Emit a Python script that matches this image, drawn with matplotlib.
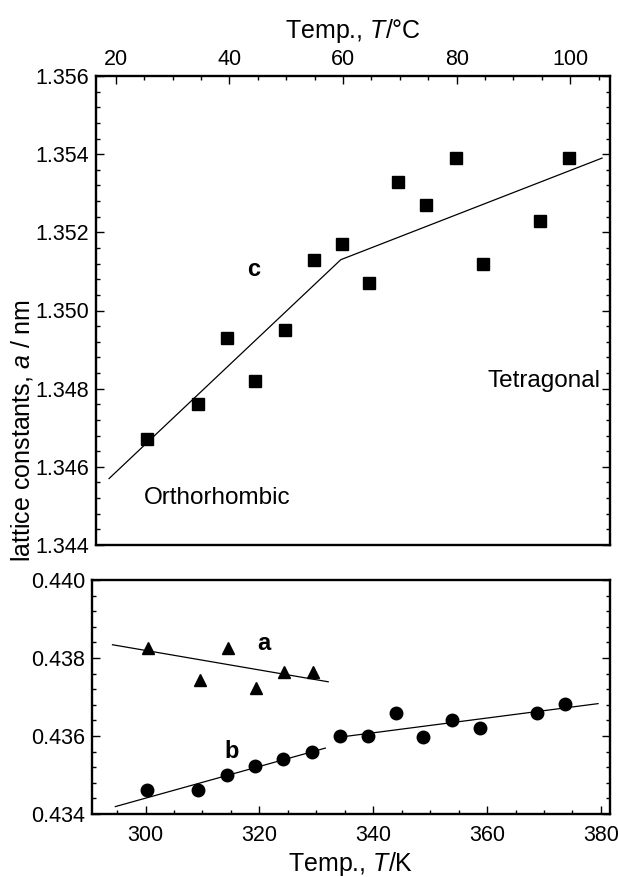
import matplotlib.pyplot as plt
from matplotlib.ticker import MultipleLocator, FormatStrFormatter

plt.rcParams['font.family'] = ['Liberation Sans']
plt.rcParams['mathtext.fontset'] = 'custom'
plt.rcParams['mathtext.rm'] = 'Liberation Sans'
plt.rcParams['mathtext.it'] = 'Liberation Sans:italic'
plt.rcParams['mathtext.bf'] = 'Liberation Sans:bold'

# top panel: c axis against temperature in deg C
temp_c = [25.5, 34.5, 39.5, 44.5, 49.8, 54.8, 59.8, 64.6, 69.6, 74.6, 79.8, 84.6, 94.6, 99.8]
c_vals = [1.3467, 1.3476, 1.3493, 1.3482, 1.3495, 1.3513, 1.3517, 1.3507,
          1.3533, 1.3527, 1.3539, 1.3512, 1.3523, 1.3539]
c_fit_x = [18.8, 59.6, 105.6]
c_fit_y = [1.3457, 1.3513, 1.3539]

# bottom panel: a and b axes against temperature in K
temp_k_a = [300.5, 309.5, 314.5, 319.4, 324.4, 329.4]
a_vals = [0.43826, 0.43743, 0.43826, 0.43722, 0.43764, 0.43764]
temp_k_b = [300.2, 309.3, 314.4, 319.3, 324.2, 329.2, 334.1, 339.0, 344.0,
            348.8, 353.8, 358.8, 368.7, 373.7]
b_vals = [0.43461, 0.43461, 0.43500, 0.43522, 0.43540, 0.43560, 0.43600, 0.43600,
          0.43660, 0.43598, 0.43641, 0.43620, 0.43659, 0.43681]
a_fit_x = [294.2, 332.1]
a_fit_y = [0.43834, 0.43739]
b_fit1_x = [294.7, 331.6]
b_fit1_y = [0.43419, 0.43569]
b_fit2_x = [334.1, 379.5]
b_fit2_y = [0.43597, 0.43683]

W, H = 618, 877
fig = plt.figure(figsize=(W / 100, H / 100), dpi=100)


def frame(ax):
    for s in ax.spines.values():
        s.set_linewidth(1.7)
    ax.tick_params(which='both', direction='in', width=1.0, labelsize=15.5)
    ax.tick_params(which='major', length=6)
    ax.tick_params(which='minor', length=3)


# ---- top panel ----
ax1 = fig.add_axes([96 / W, 1 - 545 / H, 514 / W, 469 / H])
ax1.plot(c_fit_x, c_fit_y, color='black', lw=0.9)
ax1.plot(temp_c, c_vals, 's', color='black', markersize=8.5)
ax1.set_xlim(16.5, 107.0)
ax1.set_ylim(1.344, 1.356)
ax1.xaxis.set_major_locator(MultipleLocator(20))
ax1.xaxis.set_minor_locator(MultipleLocator(5))
ax1.yaxis.set_major_locator(MultipleLocator(0.002))
ax1.yaxis.set_minor_locator(MultipleLocator(0.0004))
ax1.yaxis.set_major_formatter(FormatStrFormatter('%.3f'))
ax1.xaxis.tick_top()
ax1.xaxis.set_label_position('top')
ax1.tick_params(axis='x', which='both', top=True, bottom=False, pad=4)
ax1.tick_params(axis='y', which='both', left=True, right=True, pad=5)
frame(ax1)
ax1.set_xlabel('Temp., $T$/°C', fontsize=18, labelpad=8)
ax1.text(44.3, 1.35105, 'c', fontsize=17, fontweight='bold', ha='center', va='center')
ax1.text(37.8, 1.34519, 'Orthorhombic', fontsize=17.5, ha='center', va='center')
ax1.text(105.3, 1.3482, 'Tetragonal', fontsize=17.5, ha='right', va='center')

# ---- bottom panel ----
ax2 = fig.add_axes([92 / W, 1 - 814 / H, 518 / W, 234 / H])
ax2.plot(a_fit_x, a_fit_y, color='black', lw=0.9)
ax2.plot(b_fit1_x, b_fit1_y, color='black', lw=0.9)
ax2.plot(b_fit2_x, b_fit2_y, color='black', lw=0.9)
ax2.plot(temp_k_a, a_vals, '^', color='black', markersize=8)
ax2.plot(temp_k_b, b_vals, 'o', color='black', markersize=9)
ax2.set_xlim(290.6, 381.6)
ax2.set_ylim(0.434, 0.440)
ax2.xaxis.set_major_locator(MultipleLocator(20))
ax2.xaxis.set_minor_locator(MultipleLocator(5))
ax2.yaxis.set_major_locator(MultipleLocator(0.002))
ax2.yaxis.set_minor_locator(MultipleLocator(0.0004))
ax2.yaxis.set_major_formatter(FormatStrFormatter('%.3f'))
ax2.tick_params(axis='x', which='both', top=False, bottom=True, pad=8)
ax2.tick_params(axis='y', which='both', left=True, right=True, pad=5)
frame(ax2)
ax2.set_xlabel('Temp., $T$/K', fontsize=18, labelpad=3)
ax2.text(320.8, 0.43838, 'a', fontsize=17, fontweight='bold', ha='center', va='center')
ax2.text(315.2, 0.43560, 'b', fontsize=17, fontweight='bold', ha='center', va='center')

fig.text(22 / W, 1 - 431 / H, 'lattice constants, $a$ / nm', rotation=90,
         fontsize=18, ha='center', va='center')

fig.savefig('out.png', dpi=100)
